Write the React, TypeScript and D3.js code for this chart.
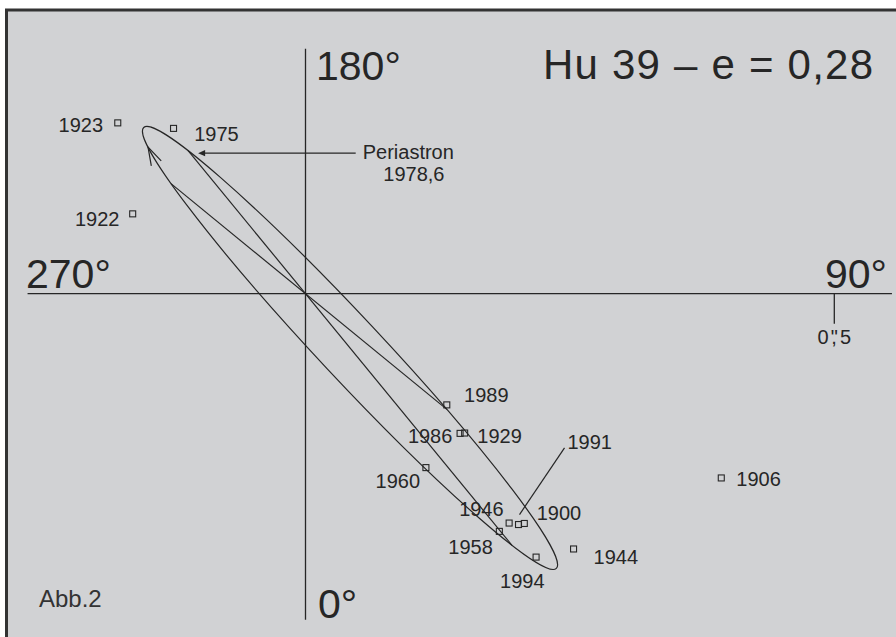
import React from 'react';
import * as d3 from 'd3';

// ---- Data: observations of Hu 39 (year, position angle in degrees, separation in arcsec)
const years = [1900, 1906, 1922, 1923, 1929, 1944, 1946, 1958, 1960, 1975, 1986, 1989, 1991, 1994];
const thetas = [43.6, 66.1, 245.2, 227.7, 48.8, 46.4, 41.6, 39.2, 34.7, 218.6, 47.9, 51.8, 42.7, 41.2];
const rhos = [0.300, 0.430, 0.180, 0.240, 0.200, 0.350, 0.290, 0.290, 0.200, 0.200, 0.197, 0.170, 0.297, 0.331];

// ---- Apparent orbit (arcsec; east, north offsets of the ellipse centre)
const eccentricity = 0.28;
const orbitCenter = [0.0421, 0.0513];
const orbitSemiAxes = [0.2855, 0.0292];
const orbitMajorPA = 43.1;
const nodeLinePA = 50.7;
const motionArrowAnomaly = -160.5;
const periastronLabel = ['Periastron', '1978,6'];
const scaleBarArcsec = 0.5;
const axisLabels = ['0°', '90°', '180°', '270°'];
const figureLabel = 'Abb.2';
const starName = 'Hu 39';

// ---- Label layout (offsets in px from each point)
const labelLayout: Record<number, { dx: number; dy: number; anchor: string; leader?: number[] }> = {
  1900: { dx: 12.4, dy: -3.3, anchor: 'start' },
  1906: { dx: 15, dy: 7.7, anchor: 'start' },
  1922: { dx: -13.2, dy: 12.3, anchor: 'end' },
  1923: { dx: -14.7, dy: 9.3, anchor: 'end' },
  1929: { dx: 12.7, dy: 10, anchor: 'start' },
  1944: { dx: 20, dy: 15, anchor: 'start' },
  1946: { dx: -5.5, dy: -7.3, anchor: 'end' },
  1958: { dx: -6.5, dy: 22.6, anchor: 'end' },
  1960: { dx: -5.8, dy: 20.3, anchor: 'end' },
  1975: { dx: 20.7, dy: 12.7, anchor: 'start' },
  1986: { dx: -7.7, dy: 10, anchor: 'end' },
  1989: { dx: 17.3, dy: -3.3, anchor: 'start' },
  1991: { dx: 49, dy: -75.7, anchor: 'start', leader: [1, -10, 46, -76.7] },
  1994: { dx: -36, dy: 31, anchor: 'start' },
};

const W = 896;
const H = 637;
const ORIGIN = [305.5, 293.7];
const PX_PER_ARCSEC = 1057.6;
const FONT = '"Liberation Sans", Arial, Helvetica, sans-serif';
const INK = '#262626';
const BG = '#d1d2d4';

const rad = (d: number) => (d * Math.PI) / 180;

export default function App() {
  const xs = d3.scaleLinear().domain([0, 1]).range([ORIGIN[0], ORIGIN[0] + PX_PER_ARCSEC]);
  const ys = d3.scaleLinear().domain([0, 1]).range([ORIGIN[1], ORIGIN[1] + PX_PER_ARCSEC]);
  const toScreen = (p: number[]) => [xs(p[0]), ys(p[1])];

  const A = orbitSemiAxes[0];
  const B = orbitSemiAxes[1];
  const e1 = [Math.sin(rad(orbitMajorPA)), Math.cos(rad(orbitMajorPA))];
  const e2 = [Math.cos(rad(orbitMajorPA)), -Math.sin(rad(orbitMajorPA))];
  const dot = (a: number[], b: number[]) => a[0] * b[0] + a[1] * b[1];

  // Intersections of line p + t d with the apparent ellipse
  const intersect = (p: number[], d: number[]) => {
    const q = [p[0] - orbitCenter[0], p[1] - orbitCenter[1]];
    const u0 = dot(q, e1), v0 = dot(q, e2), du = dot(d, e1), dv = dot(d, e2);
    const a = (du * du) / (A * A) + (dv * dv) / (B * B);
    const b = 2 * ((u0 * du) / (A * A) + (v0 * dv) / (B * B));
    const c = (u0 * u0) / (A * A) + (v0 * v0) / (B * B) - 1;
    const disc = Math.sqrt(Math.max(0, b * b - 4 * a * c));
    const t1 = (-b - disc) / (2 * a), t2 = (-b + disc) / (2 * a);
    return [
      [p[0] + t1 * d[0], p[1] + t1 * d[1]],
      [p[0] + t2 * d[0], p[1] + t2 * d[1]],
    ];
  };

  const apsides = intersect([0, 0], orbitCenter);
  const peri = toScreen(apsides[0]);
  const apo = toScreen(apsides[1]);
  const nodes = intersect([0, 0], [Math.sin(rad(nodeLinePA)), Math.cos(rad(nodeLinePA))]);
  const n1 = toScreen(nodes[0]);
  const n2 = toScreen(nodes[1]);

  const c = toScreen(orbitCenter);
  const rx = xs(A) - xs(0);
  const ry = xs(B) - xs(0);
  const rot = 90 - orbitMajorPA;

  // direction-of-motion arrowhead
  const ta = rad(motionArrowAnomaly);
  const pa = [
    orbitCenter[0] + A * Math.cos(ta) * e1[0] + B * Math.sin(ta) * e2[0],
    orbitCenter[1] + A * Math.cos(ta) * e1[1] + B * Math.sin(ta) * e2[1],
  ];
  const tan = [
    -A * Math.sin(ta) * e1[0] + B * Math.cos(ta) * e2[0],
    -A * Math.sin(ta) * e1[1] + B * Math.cos(ta) * e2[1],
  ];
  const tip = toScreen(pa);
  const tl = Math.hypot(tan[0], tan[1]);
  const back = [tan[0] / tl, tan[1] / tl];
  const arm = (ang: number) => {
    const ca = Math.cos(rad(ang)), sa = Math.sin(rad(ang));
    const v = [back[0] * ca - back[1] * sa, back[0] * sa + back[1] * ca];
    return [tip[0] + v[0] * 19, tip[1] + v[1] * 19];
  };
  const armA = arm(17), armB = arm(-17);

  const pts = years.map((yr, i) => {
    const east = rhos[i] * Math.sin(rad(thetas[i]));
    const north = rhos[i] * Math.cos(rad(thetas[i]));
    return { yr, x: xs(east), y: ys(north) };
  });

  const xAxisExt = [-0.2628, 0.5545];
  const yAxisExt = [-0.2315, 0.3084];
  const sbX = xs(scaleBarArcsec);

  const title = `${starName} – e = ${eccentricity.toFixed(2).replace('.', ',')}`;
  const arrowTip = [peri[0] + 10, peri[1] + 2.5];

  return (
    <svg width={W} height={H} style={{ position: 'absolute', left: 0, top: 0, background: '#fff' }} fontFamily={FONT}>
      <rect x={6.5} y={10} width={W + 10} height={H + 10} fill={BG} stroke="#333" strokeWidth={3} />
      {/* axes */}
      <line x1={xs(xAxisExt[0])} x2={xs(xAxisExt[1])} y1={ys(0)} y2={ys(0)} stroke={INK} strokeWidth={1.3} />
      <line x1={xs(0)} x2={xs(0)} y1={ys(yAxisExt[0])} y2={ys(yAxisExt[1])} stroke={INK} strokeWidth={1.3} />
      {/* scale bar */}
      <line x1={sbX} x2={sbX} y1={ys(0)} y2={ys(0) + 30} stroke={INK} strokeWidth={1.3} />
      <text x={sbX} y={ys(0) + 50.6} fontSize={20} fill={INK} textAnchor="middle">
        0<tspan dx={2}>"</tspan><tspan dx={-6.5}>,</tspan><tspan dx={3}>5</tspan>
      </text>
      {/* axis labels */}
      <text x={318} y={618.3} fontSize={41} fill={INK}>{axisLabels[0]}</text>
      <text x={887} y={288.3} fontSize={41} fill={INK} textAnchor="end">{axisLabels[1]}</text>
      <text x={316} y={80} fontSize={41} fill={INK}>{axisLabels[2]}</text>
      <text x={26} y={288} fontSize={41} fill={INK}>{axisLabels[3]}</text>
      <text x={543} y={79} fontSize={42} fill={INK} textLength={330} lengthAdjust="spacing">{title}</text>
      <text x={39} y={607.3} fontSize={24} fill="#333">{figureLabel}</text>

      {/* orbit */}
      <ellipse cx={c[0]} cy={c[1]} rx={rx} ry={ry} transform={`rotate(${rot} ${c[0]} ${c[1]})`} fill="none" stroke={INK} strokeWidth={1.2} />
      <line x1={peri[0]} y1={peri[1]} x2={apo[0]} y2={apo[1]} stroke={INK} strokeWidth={1.2} />
      <line x1={n1[0]} y1={n1[1]} x2={n2[0]} y2={n2[1]} stroke={INK} strokeWidth={1.2} />
      <polyline points={`${armA[0]},${armA[1]} ${tip[0]},${tip[1]} ${armB[0]},${armB[1]}`} fill="none" stroke={INK} strokeWidth={1.2} />

      {/* periastron annotation */}
      <line x1={355.7} y1={arrowTip[1]} x2={arrowTip[0] + 5} y2={arrowTip[1]} stroke={INK} strokeWidth={1.2} />
      <polygon points={`${arrowTip[0]},${arrowTip[1]} ${arrowTip[0] + 7},${arrowTip[1] - 3.2} ${arrowTip[0] + 7},${arrowTip[1] + 3.2}`} fill={INK} />
      <text x={362.7} y={159.3} fontSize={20} fill={INK}>{periastronLabel[0]}</text>
      <text x={383.3} y={181} fontSize={20} fill={INK}>{periastronLabel[1]}</text>

      {/* observations */}
      {pts.map((p) => {
        const L = labelLayout[p.yr];
        return (
          <g key={p.yr}>
            <rect x={p.x - 3} y={p.y - 3} width={6} height={6} fill="none" stroke={INK} strokeWidth={1.1} />
            {L.leader && (
              <line x1={p.x + L.leader[0]} y1={p.y + L.leader[1]} x2={p.x + L.leader[2]} y2={p.y + L.leader[3]} stroke={INK} strokeWidth={1.2} />
            )}
            <text x={p.x + L.dx} y={p.y + L.dy} fontSize={20} fill={INK} textAnchor={L.anchor}>{p.yr}</text>
          </g>
        );
      })}
    </svg>
  );
}
